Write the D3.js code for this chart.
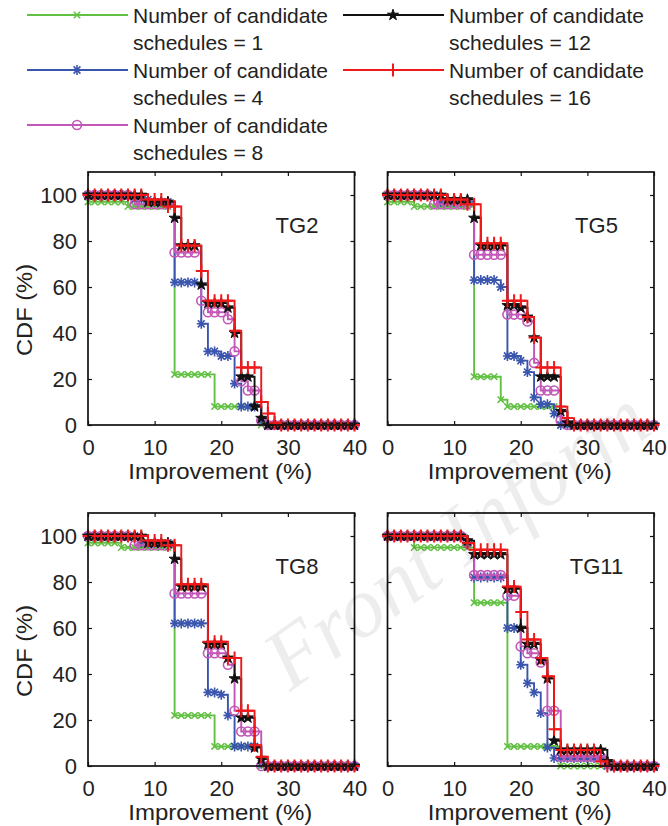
<!DOCTYPE html>
<html>
<head>
<meta charset="utf-8">
<script src="https://cdn.jsdelivr.net/npm/d3@7"></script>
<style>
  body { margin: 0; background: #fff; }
  text { font-family: "Liberation Sans", Arial, sans-serif; fill: #222; }
</style>
</head>
<body>
<svg id="chart" width="668" height="826"></svg>
<script>
// Improvement grid (%) shared by every CDF curve
const improvement = [0,1,2,3,4,5,6,7,8,9,10,11,12,13,14,15,16,17,18,19,20,
                     21,22,23,24,25,26,27,28,29,30,31,32,33,34,35,36,37,38,39,40];

const seriesLabels = ["schedules = 1", "schedules = 4", "schedules = 8", "schedules = 12", "schedules = 16"];
const xTicks = [0, 10, 20, 30, 40];
const yTicks = [0, 20, 40, 60, 80, 100];
const panelNames = ["TG2", "TG5", "TG8", "TG11"];

// CDF (%) per number of candidate schedules, TG2
const tg2Sched1  = [97,97,97,97,97,97,95,95,95,95,95,95,95,22,22,22,22,22,22,8,8,8,8,8,8,8,0,0,0,0,0,0,0,0,0,0,0,0,0,0,0];
const tg2Sched4  = [100,100,100,100,100,100,100,98,98,98,97,97,97,62,62,62,62,44,32,32,30,30,18,8,8,8,2,0,0,0,0,0,0,0,0,0,0,0,0,0,0];
const tg2Sched8  = [100,100,100,100,100,100,100,96,96,96,96,96,96,75,75,75,75,54,49,49,49,46,32,19,15,15,2,0,0,0,0,0,0,0,0,0,0,0,0,0,0];
const tg2Sched12 = [100,100,100,100,100,100,100,100,100,97,97,97,97,90,78,78,78,61,53,53,53,51,40,21,21,8,3,0,0,0,0,0,0,0,0,0,0,0,0,0,0];
const tg2Sched16 = [100,100,100,100,100,100,100,100,100,98,98,98,95,95,78,78,78,67,54,54,54,54,41,25,25,25,10,5,1,0,0,0,0,0,0,0,0,0,0,0,0];

// TG5
const tg5Sched1  = [97,97,97,97,95,95,95,95,95,95,95,95,95,21,21,21,21,11,8,8,8,8,8,8,8,8,0,0,0,0,0,0,0,0,0,0,0,0,0,0,0];
const tg5Sched4  = [100,100,100,100,100,100,100,100,97,97,97,97,97,63,63,63,63,60,30,30,28,23,12,9,9,5,0,0,0,0,0,0,0,0,0,0,0,0,0,0,0];
const tg5Sched8  = [100,100,100,100,100,100,100,96,96,96,96,96,96,74,74,74,74,74,48,48,48,45,27,15,15,15,2,0,0,0,0,0,0,0,0,0,0,0,0,0,0];
const tg5Sched12 = [100,100,100,100,100,100,100,100,100,98,98,98,98,90,78,78,78,78,52,52,51,47,38,21,21,21,6,1,0,0,0,0,0,0,0,0,0,0,0,0,0];
const tg5Sched16 = [100,100,100,100,100,100,100,100,100,98,98,98,96,96,79,79,79,79,54,54,54,47,38,25,25,25,8,3,0,0,0,0,0,0,0,0,0,0,0,0,0];

// TG8
const tg8Sched1  = [97,97,97,97,97,95,95,95,95,95,95,95,95,22,22,22,22,22,22,8.5,8.5,8.5,8.5,8.5,8.5,8.5,0,0,0,0,0,0,0,0,0,0,0,0,0,0,0];
const tg8Sched4  = [100,100,100,100,100,100,100,100,97,97,97,97,97,62,62,62,62,62,32,32,31,22,8.5,8.5,8.5,8.5,1,0,0,0,0,0,0,0,0,0,0,0,0,0,0];
const tg8Sched8  = [100,100,100,100,100,100,100,96,96,96,96,96,96,75,75,75,75,75,49,49,49,44,24,15,15,15,0,0,0,0,0,0,0,0,0,0,0,0,0,0,0];
const tg8Sched12 = [100,100,100,100,100,100,100,100,100,97,97,97,97,90,78,78,78,78,53,53,53,47,38,21,21,8,3,0,0,0,0,0,0,0,0,0,0,0,0,0,0];
const tg8Sched16 = [100,100,100,100,100,100,100,100,100,98,98,98,96,96,79,79,79,79,54,54,54,47,47,24,24,9,4,0,0,0,0,0,0,0,0,0,0,0,0,0,0];

// TG11
const tg11Sched1  = [100,100,100,100,95,95,95,95,95,95,95,95,95,71,71,71,71,71,8.5,8.5,8.5,8.5,8.5,8.5,8.5,8.5,0,0,0,0,0,0,0,0,0,0,0,0,0,0,0];
const tg11Sched4  = [100,100,100,100,100,100,100,100,100,100,100,100,97,82,82,82,82,82,60,60,44,36,32,23,8,3.5,3.5,3.5,3.5,3.5,3.5,3.5,3.5,0,0,0,0,0,0,0,0];
const tg11Sched8  = [100,100,100,100,100,100,100,100,100,100,100,100,97,83,83,83,83,83,74,74,52,49,49,45,24,24,4,4,4,4,4,4,4,1,0,0,0,0,0,0,0];
const tg11Sched12 = [100,100,100,100,100,100,100,100,100,100,100,100,98,92,92,92,92,92,77,77,60,53,53,46,38,11,7,7,7,7,7,7,7,2,0,0,0,0,0,0,0];
const tg11Sched16 = [100,100,100,100,100,100,100,100,100,100,100,100,97,94,94,94,94,94,78,78,67,55,55,47,39,16,7,7,7,7,7,7,2,0,0,0,0,0,0,0,0];

const panelSeries = [
  [tg2Sched1, tg2Sched4, tg2Sched8, tg2Sched12, tg2Sched16],
  [tg5Sched1, tg5Sched4, tg5Sched8, tg5Sched12, tg5Sched16],
  [tg8Sched1, tg8Sched4, tg8Sched8, tg8Sched12, tg8Sched16],
  [tg11Sched1, tg11Sched4, tg11Sched8, tg11Sched12, tg11Sched16]
];

// Line colours and marker kinds, one per candidate-schedule count
const colors  = ["#62c043", "#3a55ad", "#c257b8", "#111111", "#f01919"];
const markers = ["x", "asterisk", "circle", "star", "plus"];

const svg = d3.select("#chart");

function drawMarker(g, kind, color, cx, cy) {
  const t = `translate(${cx},${cy})`;
  if (kind === "x") {
    g.append("path").attr("transform", t).attr("d", "M-3.2,-3.2L3.2,3.2M-3.2,3.2L3.2,-3.2")
      .attr("stroke", color).attr("stroke-width", 1.5).attr("fill", "none");
  } else if (kind === "asterisk") {
    g.append("path").attr("transform", t)
      .attr("d", "M-4.5,0L4.5,0M0,-5L0,5M-3.4,-3.6L3.4,3.6M-3.4,3.6L3.4,-3.6")
      .attr("stroke", color).attr("stroke-width", 1.6).attr("fill", "none");
  } else if (kind === "circle") {
    g.append("circle").attr("cx", cx).attr("cy", cy).attr("r", 4.5)
      .attr("stroke", color).attr("stroke-width", 1.6).attr("fill", "none");
  } else if (kind === "star") {
    g.append("path").attr("transform", t)
      .attr("d", d3.symbol(d3.symbolStar, 38)())
      .attr("stroke", color).attr("stroke-width", 1).attr("fill", color);
  } else if (kind === "plus") {
    g.append("path").attr("transform", t).attr("d", "M-5.5,0L5.5,0M0,-6.5L0,6.5")
      .attr("stroke", color).attr("stroke-width", 2).attr("fill", "none");
  }
}

// Panel geometry
const panelLeft = [88, 387.5, 88, 387.5];
const panelBottom = [425, 425, 766, 766];
const plotW = 266.5, plotH = 253;

panelNames.forEach((name, p) => {
  const x = d3.scaleLinear().domain([0, 40]).range([panelLeft[p], panelLeft[p] + plotW]);
  const y = d3.scaleLinear().domain([0, 110]).range([panelBottom[p], panelBottom[p] - plotH]);
  const g = svg.append("g");

  // Series: stairs with a marker at every sample
  const line = d3.line().x((d, i) => x(improvement[i])).y(d => y(d)).curve(d3.curveStepAfter);
  panelSeries[p].forEach((vals, s) => {
    g.append("path").datum(vals).attr("d", line)
      .attr("fill", "none").attr("stroke", colors[s]).attr("stroke-width", 1.9);
    const mg = g.append("g");
    vals.forEach((v, i) => drawMarker(mg, markers[s], colors[s], x(improvement[i]), y(v)));
  });

  // Axes box
  g.append("rect").attr("x", x(0)).attr("y", y(110)).attr("width", plotW).attr("height", plotH)
    .attr("fill", "none").attr("stroke", "#111").attr("stroke-width", 1.7);

  g.append("g").attr("transform", `translate(0,${y(0)})`)
    .call(d3.axisBottom(x).tickValues(xTicks).tickSizeInner(-4).tickSizeOuter(0).tickPadding(14));
  g.append("g").attr("transform", `translate(0,${y(110)})`)
    .call(d3.axisTop(x).tickValues(xTicks).tickSizeInner(-4).tickSizeOuter(0).tickFormat(""));
  g.append("g").attr("transform", `translate(${x(0)},0)`)
    .call(d3.axisLeft(y).tickValues(yTicks).tickSizeInner(-4).tickSizeOuter(0).tickPadding(11)
      .tickFormat(p % 2 === 0 ? d3.format("d") : () => ""));
  g.append("g").attr("transform", `translate(${x(40)},0)`)
    .call(d3.axisRight(y).tickValues(yTicks).tickSizeInner(-4).tickSizeOuter(0).tickFormat(""));

  g.selectAll(".domain").remove();
  g.selectAll(".tick line").attr("stroke", "#111").attr("stroke-width", 1.2);
  g.selectAll(".tick text").style("font-size", "22px").style("font-family", "Liberation Sans, Arial, sans-serif").attr("fill", "#222");

  // Panel label
  g.append("text").attr("x", x(0) + 209).attr("y", y(0) - 192)
    .attr("text-anchor", "middle").style("font-size", "22px").text(name);

  // Axis titles
  g.append("text").attr("x", x(20) - 1).attr("y", y(0) + 54)
    .attr("text-anchor", "middle").style("font-size", "22px")
    .attr("textLength", 184).attr("lengthAdjust", "spacingAndGlyphs")
    .text("Improvement (%)");
  if (p % 2 === 0) {
    g.append("text").attr("transform", `translate(32,${y(0) - 115}) rotate(-90)`)
      .attr("text-anchor", "middle").style("font-size", "22px")
      .attr("textLength", 92).attr("lengthAdjust", "spacingAndGlyphs")
      .text("CDF (%)");
  }
});

// Legend
const legendPos = [[27, 15], [27, 70], [27, 125], [343, 15], [343, 70]];
seriesLabels.forEach((lab, s) => {
  const [lx, ly] = legendPos[s];
  const lg = svg.append("g");
  lg.append("line").attr("x1", lx).attr("x2", lx + 101).attr("y1", ly).attr("y2", ly)
    .attr("stroke", colors[s]).attr("stroke-width", 1.8);
  drawMarker(lg, markers[s], colors[s], lx + 50, ly);
  lg.append("text").attr("x", lx + 106).attr("y", ly + 8).style("font-size", "21px").text("Number of candidate");
  lg.append("text").attr("x", lx + 106).attr("y", ly + 35).style("font-size", "21px").text(lab);
});

// Publisher watermark
svg.append("text")
  .attr("transform", "translate(290,692) rotate(-35.5)")
  .style("font-family", "Liberation Serif, serif").style("font-style", "italic")
  .style("font-size", "86px").style("fill", "#000").style("fill-opacity", 0.07)
  .text("Front Inform");
</script>
</body>
</html>
